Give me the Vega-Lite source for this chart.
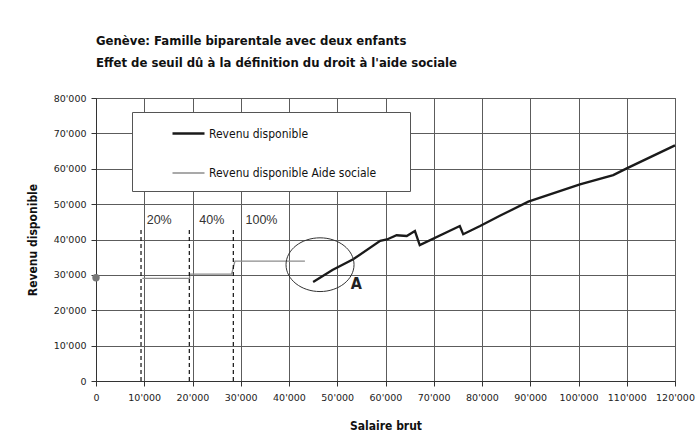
{
  "$schema": "https://vega.github.io/schema/vega-lite/v6.json",
  "width": 579,
  "height": 283,
  "autosize": {"type": "none"},
  "padding": {"left": 96, "top": 98, "right": 22, "bottom": 55},
  "background": "white",
  "title": {
    "text": ["Genève: Famille biparentale avec deux enfants", "Effet de seuil dû à la définition du droit à l'aide sociale"],
    "anchor": "start",
    "frame": "group",
    "font": "DejaVu Sans Condensed, Liberation Sans, sans-serif",
    "fontWeight": "bold",
    "fontSize": 13,
    "lineHeight": 22,
    "color": "#111",
    "offset": 23
  },
  "datasets": {
    "lignes": [
      {"serie": "Revenu disponible", "ordre": 1, "salaire": 45000, "revenu": 28000},
      {"serie": "Revenu disponible", "ordre": 2, "salaire": 49000, "revenu": 31400},
      {"serie": "Revenu disponible", "ordre": 3, "salaire": 53300, "revenu": 34400},
      {"serie": "Revenu disponible", "ordre": 4, "salaire": 58900, "revenu": 39600},
      {"serie": "Revenu disponible", "ordre": 5, "salaire": 60300, "revenu": 40000},
      {"serie": "Revenu disponible", "ordre": 6, "salaire": 62300, "revenu": 41200},
      {"serie": "Revenu disponible", "ordre": 7, "salaire": 64400, "revenu": 41000},
      {"serie": "Revenu disponible", "ordre": 8, "salaire": 66100, "revenu": 42400},
      {"serie": "Revenu disponible", "ordre": 9, "salaire": 67100, "revenu": 38400},
      {"serie": "Revenu disponible", "ordre": 10, "salaire": 75400, "revenu": 43800},
      {"serie": "Revenu disponible", "ordre": 11, "salaire": 76100, "revenu": 41500},
      {"serie": "Revenu disponible", "ordre": 12, "salaire": 79600, "revenu": 43800},
      {"serie": "Revenu disponible", "ordre": 13, "salaire": 83700, "revenu": 46700},
      {"serie": "Revenu disponible", "ordre": 14, "salaire": 89600, "revenu": 50700},
      {"serie": "Revenu disponible", "ordre": 15, "salaire": 100300, "revenu": 55600},
      {"serie": "Revenu disponible", "ordre": 16, "salaire": 107200, "revenu": 58200},
      {"serie": "Revenu disponible", "ordre": 17, "salaire": 110000, "revenu": 60100},
      {"serie": "Revenu disponible", "ordre": 18, "salaire": 120000, "revenu": 66600},
      {"serie": "Revenu disponible Aide sociale", "ordre": 1, "salaire": 9600, "revenu": 29000},
      {"serie": "Revenu disponible Aide sociale", "ordre": 2, "salaire": 19400, "revenu": 29000},
      {"serie": "Revenu disponible Aide sociale", "ordre": 3, "salaire": 19400, "revenu": 30200},
      {"serie": "Revenu disponible Aide sociale", "ordre": 4, "salaire": 28100, "revenu": 30200},
      {"serie": "Revenu disponible Aide sociale", "ordre": 5, "salaire": 28800, "revenu": 33900},
      {"serie": "Revenu disponible Aide sociale", "ordre": 6, "salaire": 43300, "revenu": 33900}
    ],
    "seuils": [
      {"salaire": 9330, "revenu": 0, "haut": 42700},
      {"salaire": 19340, "revenu": 0, "haut": 42700},
      {"salaire": 28460, "revenu": 0, "haut": 42700}
    ],
    "taux": [
      {"salaire": 13100, "revenu": 45500, "label": "20%"},
      {"salaire": 24000, "revenu": 45500, "label": "40%"},
      {"salaire": 34300, "revenu": 45500, "label": "100%"}
    ],
    "depart": [
      {"salaire": 0, "revenu": 29200}
    ],
    "cercle": [
      {"salaire": 46430, "revenu": 32880}
    ],
    "repere": [
      {"salaire": 53950, "revenu": 27500, "label": "A"}
    ]
  },
  "encoding": {
    "x": {
      "field": "salaire",
      "type": "quantitative",
      "scale": {"domain": [0, 120000], "nice": false, "zero": false},
      "axis": {
        "title": "Salaire brut",
        "values": [0, 10000, 20000, 30000, 40000, 50000, 60000, 70000, 80000, 90000, 100000, 110000, 120000],
        "labelExpr": "replace(format(datum.value, ','), ',', \"'\")",
        "labelOverlap": false,
        "labelFlush": false,
        "labelPadding": 6,
        "titlePadding": 19
      }
    },
    "y": {
      "field": "revenu",
      "type": "quantitative",
      "scale": {"domain": [0, 80000], "nice": false},
      "axis": {
        "title": "Revenu disponible",
        "values": [0, 10000, 20000, 30000, 40000, 50000, 60000, 70000, 80000],
        "labelExpr": "replace(format(datum.value, ','), ',', \"'\")",
        "labelOverlap": false,
        "labelFlush": false,
        "labelPadding": 5,
        "titlePadding": 14
      }
    }
  },
  "layer": [
    {
      "data": {"name": "lignes"},
      "mark": {"type": "line", "strokeCap": "butt", "strokeJoin": "miter"},
      "encoding": {
        "order": {"field": "ordre", "type": "quantitative"},
        "color": {
          "field": "serie",
          "type": "nominal",
          "scale": {"domain": ["Revenu disponible", "Revenu disponible Aide sociale"], "range": ["#1a1a1a", "#8c8c8c"]},
          "legend": {
            "orient": "none",
            "legendX": 36,
            "legendY": 14,
            "title": ["\u00a0", "\u00a0"],
            "titleOrient": "right",
            "titleFontSize": 1,
            "titleLineHeight": 70,
            "titleBaseline": "top",
            "titleAnchor": "start",
            "titlePadding": 30,
            "fillColor": "white",
            "strokeColor": "#555",
            "padding": 4,
            "symbolType": "stroke",
            "symbolSize": 1024,
            "symbolOffset": 35,
            "labelOffset": 3,
            "labelLimit": 400,
            "labelFont": "DejaVu Sans Condensed, Liberation Sans, sans-serif",
            "labelFontSize": 12,
            "labelColor": "#111",
            "rowPadding": 16
          }
        },
        "strokeWidth": {
          "field": "serie",
          "type": "nominal",
          "scale": {"domain": ["Revenu disponible", "Revenu disponible Aide sociale"], "range": [2.3, 1.3]}
        }
      }
    },
    {
      "data": {"name": "seuils"},
      "mark": {"type": "rule", "color": "#111", "strokeWidth": 1.2, "strokeDash": [4, 3]},
      "encoding": {
        "y2": {"field": "haut"}
      }
    },
    {
      "data": {"name": "taux"},
      "mark": {"type": "text", "font": "Liberation Sans", "fontSize": 12.5, "color": "#333", "align": "center", "baseline": "middle"},
      "encoding": {
        "text": {"field": "label", "type": "nominal"}
      }
    },
    {
      "data": {"name": "depart"},
      "mark": {"type": "point", "filled": true, "color": "#777", "size": 55, "opacity": 1}
    },
    {
      "data": {"name": "cercle"},
      "mark": {"type": "point", "filled": false, "shape": "M -1 0 A 1 0.79 0 1 1 1 0 A 1 0.79 0 1 1 -1 0 Z", "size": 4624, "color": "#333", "strokeWidth": 1, "opacity": 1}
    },
    {
      "data": {"name": "repere"},
      "mark": {"type": "text", "font": "DejaVu Sans Condensed, Liberation Sans, sans-serif", "fontWeight": "bold", "fontSize": 16, "color": "#222", "align": "center", "baseline": "middle"},
      "encoding": {
        "text": {"field": "label", "type": "nominal"}
      }
    }
  ],
  "config": {
    "view": {"stroke": "#555", "strokeWidth": 1},
    "axis": {
      "grid": true,
      "gridColor": "#5c5c5c",
      "gridWidth": 1,
      "gridOpacity": 1,
      "domainColor": "#333",
      "domainWidth": 1,
      "tickColor": "#333",
      "tickSize": 5,
      "tickWidth": 1,
      "labelFont": "DejaVu Sans",
      "labelFontSize": 9.5,
      "labelColor": "#222",
      "titleFont": "DejaVu Sans Condensed, Liberation Sans, sans-serif",
      "titleFontWeight": "bold",
      "titleFontSize": 12,
      "titleColor": "#111"
    }
  }
}
